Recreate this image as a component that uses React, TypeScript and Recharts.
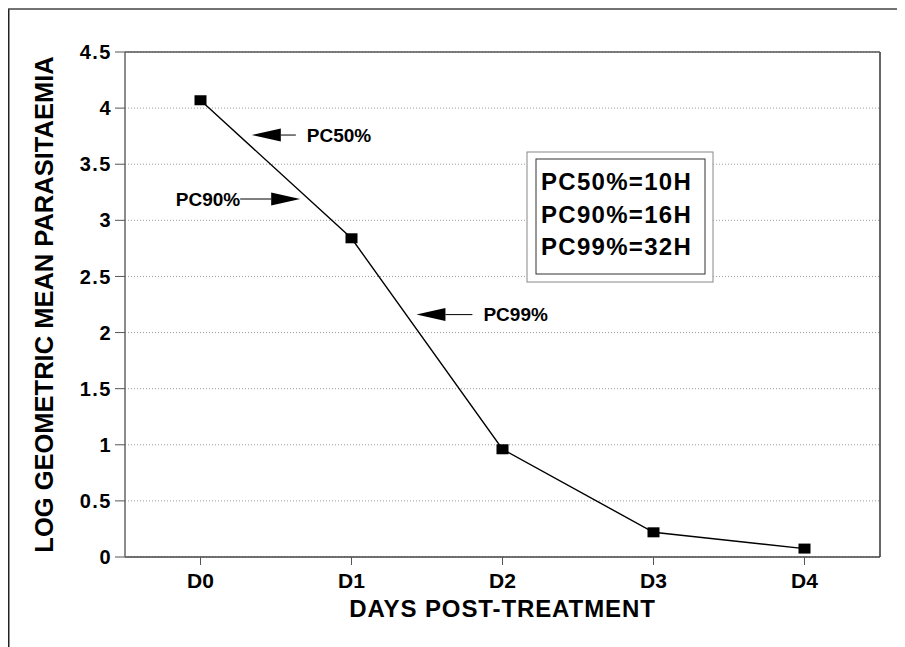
import React from 'react';
import {
  LineChart,
  Line,
  XAxis,
  YAxis,
  CartesianGrid,
  ReferenceDot,
  Customized,
  Label,
} from 'recharts';

// ---- data ----
const days = ['D0', 'D1', 'D2', 'D3', 'D4'];
const logParasitaemia = [4.07, 2.84, 0.96, 0.22, 0.075];
const yTicks = [0, 0.5, 1, 1.5, 2, 2.5, 3, 3.5, 4, 4.5];
const pcLabels = ['PC50%', 'PC90%', 'PC99%'];
const pcTimes = ['10H', '16H', '32H'];
// annotation arrow tips in data units (day index, log value)
const annotationDay = [0.34, 0.66, 1.43];
const annotationValue = [3.76, 3.19, 2.16];
const annotationDir = ['left', 'right', 'left'];
const xTitle = 'DAYS POST-TREATMENT';
const yTitle = 'LOG GEOMETRIC MEAN PARASITAEMIA';

const data = days.map((d, i) => ({ day: d, idx: i, value: logParasitaemia[i] }));

const FONT = '"Liberation Sans", Arial, Helvetica, sans-serif';
const W = 897;
const H = 639;
const MARGIN = { top: 44, right: 25, bottom: 30, left: 0 };
const Y_AXIS_W = 117;
const X_AXIS_H = 60;
const PLOT_L = MARGIN.left + Y_AXIS_W;
const PLOT_R = W - MARGIN.right;
const PLOT_T = MARGIN.top;
const PLOT_B = H - MARGIN.bottom - X_AXIS_H;

// styling for each annotation (connector line length)
const connectorLen = [15, 31, 27];

const Marker = (props: any) => {
  const { cx, cy, index } = props;
  if (cx == null || cy == null) return <g key={`m-${index}`} />;
  return <rect key={`m-${index}`} x={cx - 6} y={cy - 5} width={12} height={10} fill="#000" />;
};

const makeArrow = (i: number) => (props: any) => {
  const { cx, cy } = props;
  const dir = annotationDir[i];
  const len = connectorLen[i];
  const head = 29;
  const hh = 6.5;
  if (dir === 'left') {
    return (
      <g>
        <polygon points={`${cx},${cy} ${cx + head},${cy - hh} ${cx + head},${cy + hh}`} fill="#000" />
        <line x1={cx + head} y1={cy} x2={cx + head + len} y2={cy} stroke="#000" strokeWidth={1} />
        <text
          x={cx + head + len + 11}
          y={cy}
          dy="0.36em"
          fontFamily={FONT}
          fontWeight="bold"
          fontSize={19}
          fill="#000"
        >
          {pcLabels[i]}
        </text>
      </g>
    );
  }
  return (
    <g>
      <polygon points={`${cx},${cy} ${cx - head},${cy - hh} ${cx - head},${cy + hh}`} fill="#000" />
      <line x1={cx - head} y1={cy} x2={cx - head - len} y2={cy} stroke="#000" strokeWidth={1} />
      <text
        x={cx - head - len}
        y={cy}
        dy="0.36em"
        textAnchor="end"
        fontFamily={FONT}
        fontWeight="bold"
        fontSize={19}
        fill="#000"
      >
        {pcLabels[i]}
      </text>
    </g>
  );
};

const InfoBox = () => (
  <g>
    <rect x={519} y={144} width={186} height={130} fill="#fff" stroke="#888" strokeWidth={1} />
    <rect x={528} y={151} width={169} height={115} fill="#fff" stroke="#333" strokeWidth={1} />
    {pcLabels.map((l, i) => (
      <text
        key={l}
        x={533}
        y={182 + i * 32.5}
        fontFamily={FONT}
        fontWeight="bold"
        fontSize={24}
        letterSpacing={1.3}
        fill="#000"
      >
        {`${l}=${pcTimes[i]}`}
      </text>
    ))}
  </g>
);

const Frame = () => (
  <g>
    <line x1={0.75} y1={1} x2={0.75} y2={H} stroke="#222" strokeWidth={1.5} />
    <line x1={0} y1={1} x2={W} y2={1} stroke="#444" strokeWidth={1.5} />
    {/* plot box: top and right edges */}
    <line x1={PLOT_L} y1={PLOT_T} x2={PLOT_R} y2={PLOT_T} stroke="#555" strokeWidth={1.5} />
    <line x1={PLOT_R} y1={PLOT_T} x2={PLOT_R} y2={PLOT_B} stroke="#666" strokeWidth={2} />
  </g>
);

const YTitle = (props: any) => {
  const vb = props.viewBox || { x: 0, y: 0, width: 0, height: 0 };
  const cx = vb.x + 45;
  const cy = vb.y + vb.height / 2;
  return (
    <text
      x={cx}
      y={cy}
      transform={`rotate(-90 ${cx} ${cy})`}
      textAnchor="middle"
      fontFamily={FONT}
      fontWeight="bold"
      fontSize={25.5}
      fill="#000"
    >
      {yTitle}
    </text>
  );
};

const XTitle = (props: any) => {
  const vb = props.viewBox || { x: 0, y: 0, width: 0, height: 0 };
  return (
    <text
      x={vb.x + vb.width / 2}
      y={vb.y + 60}
      textAnchor="middle"
      fontFamily={FONT}
      fontWeight="bold"
      fontSize={24}
      letterSpacing={0.9}
      fill="#000"
    >
      {xTitle}
    </text>
  );
};

export default function App() {
  return (
    <div style={{ width: W, height: H, background: '#fff' }}>
      <LineChart width={W} height={H} data={data} margin={MARGIN}>
        <CartesianGrid
          horizontal
          vertical={false}
          stroke="#9a9a9a"
          strokeDasharray="1 2"
          horizontalValues={yTicks}
        />
        <XAxis
          dataKey="day"
          scale="band"
          height={X_AXIS_H}
          tickSize={8}
          tickMargin={8}
          tick={{ fontSize: 21, fontWeight: 'bold', fill: '#000', fontFamily: FONT }}
          axisLine={{ stroke: '#444', strokeWidth: 1.5 }}
          tickLine={{ stroke: '#555' }}
        >
          <Label content={<XTitle />} />
        </XAxis>
        <XAxis xAxisId="num" dataKey="idx" type="number" domain={[-0.5, 4.5]} hide height={0} />
        <YAxis
          domain={[0, 4.5]}
          ticks={yTicks}
          width={Y_AXIS_W}
          tickSize={10}
          tickMargin={3}
          interval={0}
          tick={{ fontSize: 20, fontWeight: 'bold', fill: '#000', fontFamily: FONT, letterSpacing: 1.5 }}
          axisLine={{ stroke: '#666', strokeWidth: 1.5 }}
          tickLine={{ stroke: '#555' }}
        >
          <Label content={<YTitle />} />
        </YAxis>
        <Line
          type="linear"
          dataKey="value"
          stroke="#000"
          strokeWidth={1.4}
          dot={<Marker />}
          activeDot={false}
          isAnimationActive={false}
        />
        {pcLabels.map((l, i) => (
          <ReferenceDot
            key={l}
            xAxisId="num"
            x={annotationDay[i]}
            y={annotationValue[i]}
            r={0}
            shape={makeArrow(i)}
            ifOverflow="visible"
          />
        ))}
        <Customized component={InfoBox} />
        <Customized component={Frame} />
      </LineChart>
    </div>
  );
}
